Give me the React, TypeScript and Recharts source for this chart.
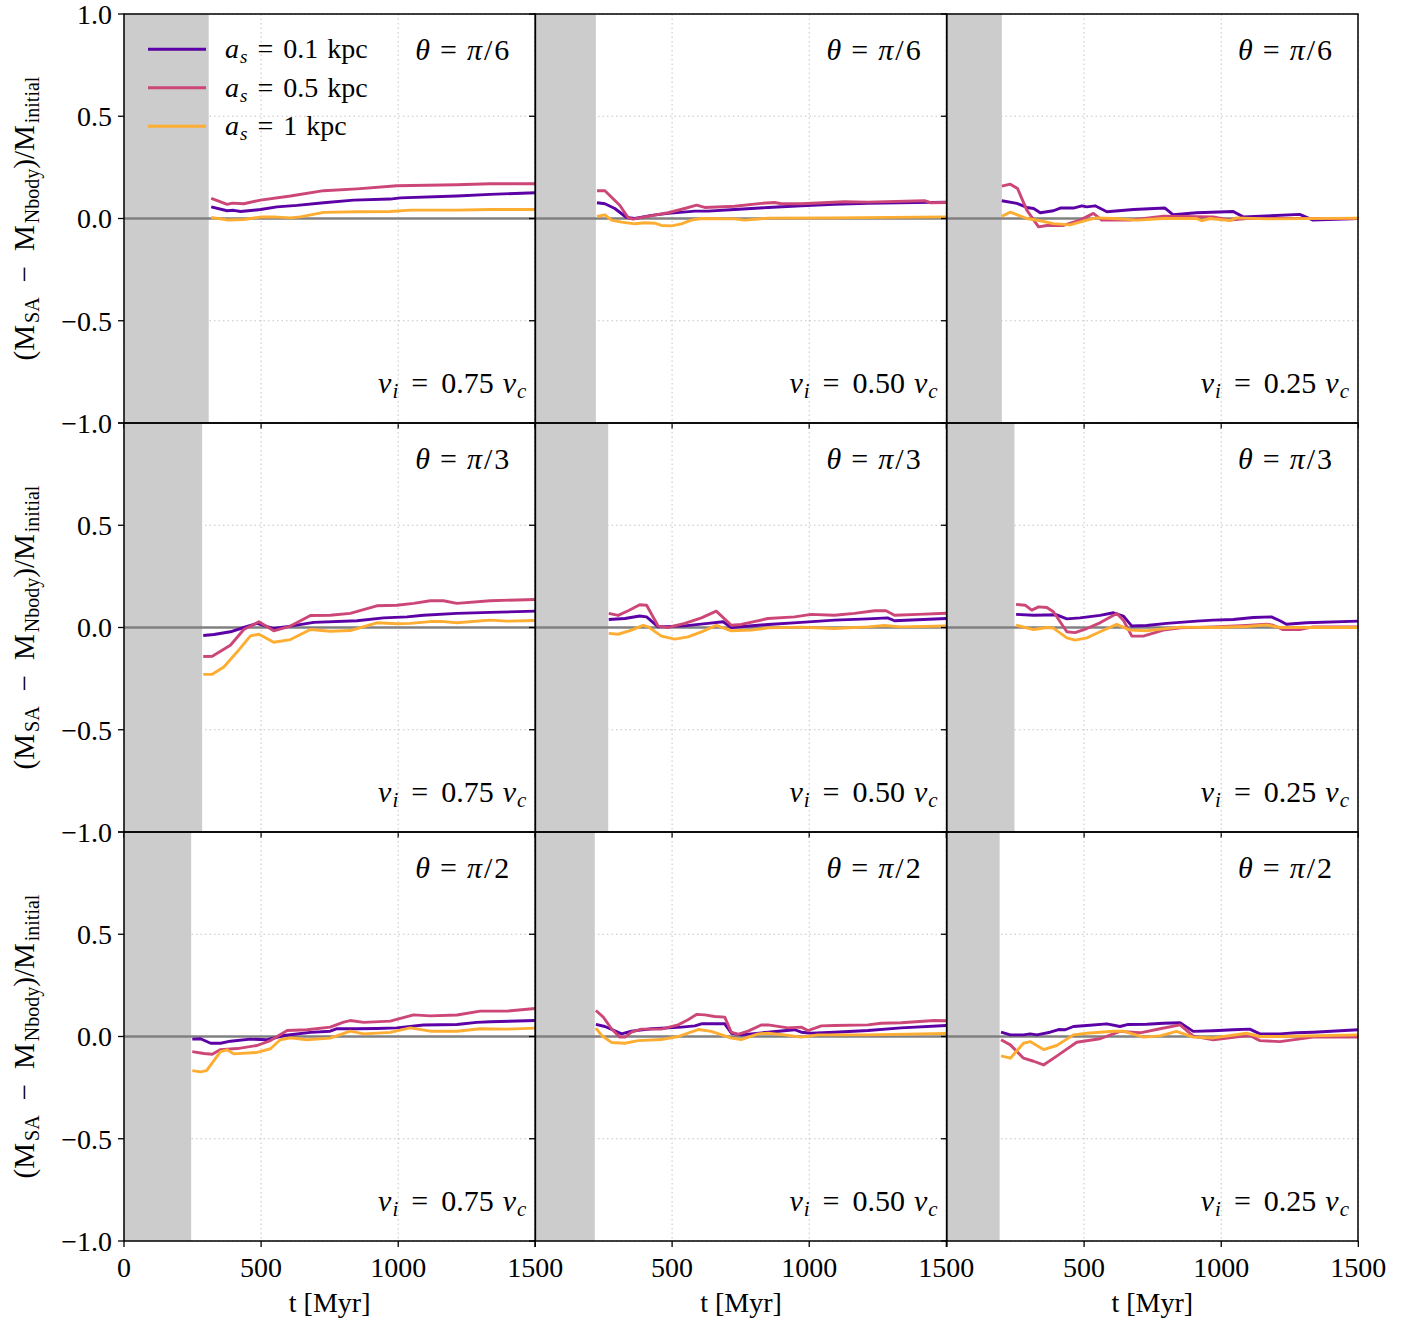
import React from 'react';
import { LineChart, Line, XAxis, YAxis, CartesianGrid, ReferenceArea, ReferenceLine, Legend } from 'recharts';

type Pt = [number, number];

const thetaLabels = ['π/6', 'π/3', 'π/2'];
const velocityLabels = ['0.75', '0.50', '0.25'];
const seriesNames = ['0.1', '0.5', '1'];
const seriesColors = ['#5c01a6', '#cc4778', '#fdae32'];
const xTicks = [0, 500, 1000, 1500];
const yTicks = [-1, -0.5, 0, 0.5, 1];
const bandEnds = [
  [309, 222, 200],
  [285, 267, 246],
  [245, 218, 192],
];

// Row 1 (theta = pi/6)
const r1c1_a01: Pt[] = [[318,0.057],[376,0.038],[400,0.04],[425,0.034],[498,0.044],[558,0.057],[631,0.064],[728,0.077],[837,0.09],[971,0.095],[1007,0.101],[1214,0.11],[1335,0.118],[1500,0.126]];
const r1c1_a05: Pt[] = [[318,0.098],[345,0.085],[376,0.069],[395,0.075],[437,0.072],[498,0.09],[607,0.11],[728,0.136],[850,0.145],[995,0.16],[1214,0.165],[1335,0.17],[1500,0.17]];
const r1c1_a1: Pt[] = [[318,0.005],[376,-0.007],[437,-0.005],[498,0.007],[546,0.008],[607,0.003],[643,0.008],[728,0.03],[850,0.033],[971,0.034],[1044,0.041],[1214,0.041],[1335,0.044],[1500,0.044]];

const r1c2_a01: Pt[] = [[226,0.077],[255,0.072],[291,0.049],[334,0.005],[364,0],[425,0.015],[485,0.025],[583,0.036],[631,0.036],[728,0.044],[850,0.054],[971,0.062],[1092,0.07],[1214,0.074],[1500,0.08]];
const r1c2_a05: Pt[] = [[226,0.136],[255,0.136],[309,0.065],[340,0.003],[358,-0.003],[400,0.008],[485,0.028],[546,0.049],[589,0.065],[619,0.054],[728,0.06],[825,0.074],[874,0.078],[898,0.072],[971,0.072],[1129,0.082],[1214,0.08],[1420,0.087],[1444,0.077],[1500,0.078]];
const r1c2_a1: Pt[] = [[226,0.01],[255,0.018],[279,-0.008],[316,-0.018],[364,-0.026],[400,-0.021],[437,-0.023],[461,-0.034],[498,-0.036],[534,-0.026],[570,-0.008],[607,0],[728,-0.002],[765,-0.008],[850,0.002],[1092,0.003],[1500,0.008]];

const r1c3_a01: Pt[] = [[200,0.087],[255,0.074],[291,0.054],[316,0.049],[340,0.028],[388,0.038],[413,0.051],[461,0.051],[492,0.062],[510,0.057],[540,0.062],[583,0.033],[680,0.044],[795,0.051],[825,0.018],[910,0.028],[1044,0.034],[1080,0.008],[1165,0.013],[1286,0.02],[1335,-0.008],[1500,0]];
const r1c3_a05: Pt[] = [[200,0.158],[231,0.168],[257,0.147],[291,0.041],[334,-0.041],[364,-0.034],[425,-0.034],[485,-0.008],[534,0.025],[564,-0.008],[667,-0.008],[789,0.011],[971,0.008],[1032,-0.008],[1092,0],[1500,0]];
const r1c3_a1: Pt[] = [[200,0.011],[231,0.031],[291,0],[340,-0.011],[388,-0.025],[449,-0.031],[510,-0.008],[546,0.003],[607,0],[692,-0.008],[789,0],[910,0],[928,-0.011],[959,0],[1032,-0.01],[1056,0.003],[1165,-0.002],[1500,0.002]];

// Row 2 (theta = pi/3)
const r2c1_a01: Pt[] = [[289,-0.039],[328,-0.034],[388,-0.021],[437,0],[485,0.02],[546,-0.005],[607,0.007],[692,0.025],[850,0.033],[947,0.047],[1032,0.052],[1092,0.06],[1214,0.069],[1335,0.074],[1500,0.08]];
const r2c1_a05: Pt[] = [[289,-0.142],[322,-0.141],[388,-0.087],[437,-0.01],[492,0.028],[546,-0.016],[607,0.007],[680,0.059],[752,0.06],[825,0.069],[922,0.106],[995,0.109],[1056,0.118],[1117,0.131],[1165,0.131],[1214,0.118],[1335,0.131],[1500,0.137]];
const r2c1_a1: Pt[] = [[289,-0.229],[322,-0.229],[364,-0.193],[413,-0.119],[461,-0.041],[492,-0.033],[546,-0.072],[607,-0.059],[680,-0.01],[752,-0.018],[825,-0.015],[922,0.023],[995,0.018],[1044,0.02],[1117,0.029],[1165,0.029],[1214,0.023],[1335,0.036],[1396,0.031],[1500,0.034]];

const r2c2_a01: Pt[] = [[269,0.039],[328,0.044],[382,0.056],[407,0.052],[449,0.003],[546,0.008],[631,0.02],[686,0.028],[716,0],[850,0.015],[971,0.025],[1092,0.036],[1214,0.042],[1286,0.047],[1311,0.033],[1500,0.044]];
const r2c2_a05: Pt[] = [[269,0.069],[303,0.059],[340,0.082],[382,0.111],[407,0.109],[449,0.007],[485,0],[546,0.02],[607,0.047],[661,0.08],[716,0.011],[752,0.015],[850,0.044],[947,0.052],[1007,0.064],[1092,0.06],[1165,0.069],[1238,0.082],[1280,0.082],[1311,0.06],[1396,0.064],[1500,0.07]];
const r2c2_a1: Pt[] = [[269,-0.029],[303,-0.033],[352,-0.013],[394,0.01],[413,0.003],[461,-0.042],[510,-0.057],[558,-0.046],[607,-0.021],[661,0.01],[716,-0.016],[789,-0.013],[850,-0.002],[971,0.002],[1092,-0.005],[1214,0.003],[1274,0.01],[1335,0.003],[1500,0.007]];

const r2c3_a01: Pt[] = [[252,0.064],[316,0.06],[400,0.062],[437,0.042],[485,0.047],[558,0.059],[607,0.072],[643,0.056],[674,0.007],[728,0.01],[801,0.02],[910,0.031],[971,0.036],[1044,0.039],[1117,0.049],[1183,0.052],[1214,0.033],[1238,0.016],[1311,0.023],[1500,0.031]];
const r2c3_a05: Pt[] = [[252,0.113],[285,0.109],[309,0.085],[334,0.101],[364,0.098],[388,0.077],[437,-0.021],[467,-0.025],[510,-0.005],[558,0.023],[619,0.069],[643,0.036],[674,-0.042],[716,-0.042],[789,-0.013],[850,-0.002],[971,0.003],[1092,0.01],[1165,0.016],[1189,0.011],[1226,-0.01],[1286,-0.01],[1335,0.003],[1500,0.003]];
const r2c3_a1: Pt[] = [[252,0.011],[316,-0.01],[364,0],[388,-0.003],[437,-0.051],[467,-0.062],[510,-0.051],[558,-0.021],[619,0.015],[667,-0.013],[728,-0.016],[789,-0.007],[850,0.002],[971,0],[1092,0.005],[1165,0.013],[1214,0],[1500,0]];

// Row 3 (theta = pi/2)
const r3c1_a01: Pt[] = [[249,-0.013],[279,-0.011],[316,-0.033],[352,-0.033],[388,-0.023],[461,-0.013],[522,-0.016],[583,0.005],[680,0.02],[752,0.026],[777,0.038],[850,0.038],[922,0.039],[995,0.042],[1092,0.056],[1214,0.059],[1286,0.069],[1335,0.072],[1500,0.078]];
const r3c1_a05: Pt[] = [[249,-0.074],[291,-0.083],[322,-0.087],[352,-0.064],[413,-0.059],[485,-0.044],[534,-0.02],[595,0.029],[667,0.033],[752,0.046],[801,0.07],[825,0.078],[874,0.069],[971,0.075],[1056,0.106],[1117,0.101],[1214,0.105],[1299,0.124],[1396,0.124],[1500,0.137]];
const r3c1_a1: Pt[] = [[249,-0.167],[279,-0.173],[301,-0.167],[352,-0.074],[376,-0.065],[400,-0.085],[485,-0.078],[534,-0.06],[570,-0.016],[607,-0.007],[667,-0.016],[752,-0.008],[825,0.026],[874,0.013],[971,0.02],[1044,0.042],[1117,0.026],[1214,0.026],[1299,0.038],[1396,0.036],[1500,0.041]];

const r3c2_a01: Pt[] = [[222,0.059],[255,0.049],[316,0.013],[352,0.026],[425,0.038],[534,0.046],[583,0.052],[607,0.062],[692,0.062],[716,0.016],[752,0.008],[850,0.021],[947,0.033],[971,0.021],[1007,0.016],[1092,0.021],[1214,0.029],[1335,0.042],[1500,0.054]];
const r3c2_a05: Pt[] = [[222,0.127],[249,0.095],[279,0.038],[309,-0.003],[328,-0.003],[352,0.021],[388,0.036],[461,0.036],[522,0.057],[558,0.082],[589,0.108],[619,0.106],[655,0.098],[692,0.095],[716,0.021],[740,0.01],[777,0.026],[825,0.056],[850,0.057],[922,0.042],[971,0.046],[995,0.029],[1044,0.052],[1092,0.054],[1214,0.057],[1262,0.065],[1335,0.067],[1456,0.078],[1500,0.077]];
const r3c2_a1: Pt[] = [[222,0.041],[243,0.005],[279,-0.029],[328,-0.033],[376,-0.02],[461,-0.015],[522,0],[595,0.034],[643,0.025],[716,-0.008],[752,-0.015],[813,0.013],[850,0.016],[910,0.008],[971,-0.003],[1032,0.008],[1214,0.008],[1500,0.015]];

const r3c3_a01: Pt[] = [[197,0.021],[231,0.008],[279,0.008],[303,0.013],[328,0.008],[376,0.021],[407,0.034],[431,0.033],[461,0.049],[510,0.054],[583,0.062],[631,0.049],[661,0.059],[728,0.06],[789,0.065],[850,0.067],[898,0.025],[971,0.028],[1044,0.033],[1104,0.036],[1141,0.013],[1214,0.013],[1274,0.018],[1335,0.021],[1500,0.033]];
const r3c3_a05: Pt[] = [[197,-0.016],[231,-0.041],[279,-0.106],[316,-0.121],[352,-0.139],[400,-0.096],[473,-0.028],[558,-0.011],[631,0.025],[704,0.018],[777,0.038],[850,0.057],[898,0.002],[971,-0.016],[1068,0],[1104,0.005],[1141,-0.02],[1214,-0.025],[1335,-0.003],[1500,-0.003]];
const r3c3_a1: Pt[] = [[197,-0.095],[231,-0.106],[279,-0.033],[303,-0.025],[352,-0.064],[400,-0.044],[461,0.008],[510,0.016],[607,0.026],[643,0.026],[716,-0.003],[777,0.003],[837,0.025],[898,-0.003],[971,-0.007],[1092,0.016],[1141,0],[1214,0],[1500,0.008]];

const panelSeries: Pt[][][][] = [
  [[r1c1_a01, r1c1_a05, r1c1_a1], [r1c2_a01, r1c2_a05, r1c2_a1], [r1c3_a01, r1c3_a05, r1c3_a1]],
  [[r2c1_a01, r2c1_a05, r2c1_a1], [r2c2_a01, r2c2_a05, r2c2_a1], [r2c3_a01, r2c3_a05, r2c3_a1]],
  [[r3c1_a01, r3c1_a05, r3c1_a1], [r3c2_a01, r3c2_a05, r3c2_a1], [r3c3_a01, r3c3_a05, r3c3_a1]],
];

// Layout
const FONT = '"Liberation Serif", "DejaVu Serif", serif';
const FS = 28;
const FS_ANN = 30;
const FS_YLAB = 29;
const SUB = 19;
const SUB_ANN = 21;
const PLOT_LEFT = 124;
const PLOT_TOP = 14;
const PLOT_W = (1358 - 124) / 3;
const PLOT_H = (1241 - 14) / 3;
const YAX_W = 110;
const XAX_H = 60;
const M_TOP = 14;
const M_RIGHT = 48;
const LINE_W = 2.9;

const fmtY = (v: number) => (v < 0 ? '−' : '') + Math.abs(v).toFixed(1);

const LegendBox = (props: any) => {
  const payload = (props && props.payload) || [];
  const rowH = 38.5;
  return (
    <svg width={250} height={rowH * payload.length} style={{ display: 'block', overflow: 'visible' }} fontFamily={FONT}>
      {payload.map((p: any, i: number) => {
        const cy = rowH / 2 + i * rowH;
        return (
          <g key={i}>
            <line x1={0} y1={cy} x2={58} y2={cy} stroke={p.color} strokeWidth={LINE_W} />
            <text x={77} y={cy + 9} fontSize={FS} fill="#000">
              <tspan fontStyle="italic">a</tspan>
              <tspan fontStyle="italic" fontSize={SUB} dx={1} dy={5}>s</tspan>
              <tspan dx={10} dy={-5}>=</tspan>
              <tspan dx={10}>{p.value}</tspan>
              <tspan dx={9}>kpc</tspan>
            </text>
          </g>
        );
      })}
    </svg>
  );
};

const Panel = ({ row, col }: { row: number; col: number }) => {
  const left = PLOT_LEFT + col * PLOT_W - YAX_W;
  const top = PLOT_TOP + row * PLOT_H - M_TOP;
  const width = PLOT_W + YAX_W + M_RIGHT;
  const height = PLOT_H + M_TOP + XAX_H;
  const series = panelSeries[row][col];
  return (
    <div style={{ position: 'absolute', left, top, width, height }}>
      <LineChart width={width} height={height} margin={{ top: M_TOP, right: M_RIGHT, left: 0, bottom: 0 }}>
        <CartesianGrid stroke="#bdbdbd" strokeWidth={0.9} strokeDasharray="1.5 3" />
        <XAxis
          dataKey="t"
          type="number"
          domain={[0, 1500]}
          ticks={xTicks}
          allowDataOverflow
          height={XAX_H}
          axisLine={false}
          tickSize={6}
          tickMargin={10}
          tickLine={{ stroke: '#000', strokeWidth: 1.3 }}
          tick={{ fontSize: FS, fill: '#000', fontFamily: FONT }}
          tickFormatter={(v: number) => (row < 2 ? '' : col > 0 && v === 0 ? '' : String(v))}
          interval={0}
        />
        <YAxis
          type="number"
          domain={[-1, 1]}
          ticks={yTicks}
          allowDataOverflow
          width={YAX_W}
          axisLine={false}
          tickSize={6}
          tickMargin={6}
          tickLine={{ stroke: '#000', strokeWidth: 1.3 }}
          tick={{ fontSize: FS, fill: '#000', fontFamily: FONT }}
          tickFormatter={(v: number) => (col > 0 ? '' : row > 0 && v === 1 ? '' : fmtY(v))}
          interval={0}
        />
        <ReferenceArea x1={0} x2={bandEnds[row][col]} y1={-1} y2={1} fill="#cccccc" fillOpacity={1} stroke="none" />
        <ReferenceLine y={0} stroke="#808080" strokeWidth={2.6} />
        {series.map((pts, i) => (
          <Line
            key={i}
            data={pts.map(([t, v]) => ({ t, v }))}
            dataKey="v"
            name={seriesNames[i]}
            stroke={seriesColors[i]}
            strokeWidth={LINE_W}
            strokeLinejoin="round"
            dot={false}
            activeDot={false}
            isAnimationActive={false}
            type="linear"
          />
        ))}
        {row === 0 && col === 0 && (
          <Legend
            layout="vertical"
            align="center"
            verticalAlign="middle"
            content={<LegendBox />}
            wrapperStyle={{ left: YAX_W + 24, top: M_TOP + 35 - 19.25, width: 250 }}
          />
        )}
      </LineChart>
    </div>
  );
};

const Overlay = () => {
  const frames = [];
  const texts = [];
  for (let r = 0; r < 3; r++) {
    for (let c = 0; c < 3; c++) {
      const x0 = PLOT_LEFT + c * PLOT_W;
      const y0 = PLOT_TOP + r * PLOT_H;
      frames.push(<rect key={`f${r}${c}`} x={x0} y={y0} width={PLOT_W} height={PLOT_H} fill="none" stroke="#000" strokeWidth={1.5} />);
      texts.push(
        <text key={`th${r}${c}`} x={x0 + PLOT_W - 26} y={y0 + 46} textAnchor="end" fontSize={FS_ANN}>
          <tspan fontStyle="italic">θ</tspan>
          <tspan dx={10}>=</tspan>
          <tspan dx={10} fontStyle="italic">{thetaLabels[r][0]}</tspan>
          <tspan dx={2}>/</tspan>
          <tspan dx={2}>{thetaLabels[r].slice(2)}</tspan>
        </text>
      );
      texts.push(
        <text key={`v${r}${c}`} x={x0 + PLOT_W - 9} y={y0 + 379} textAnchor="end" fontSize={FS_ANN}>
          <tspan fontStyle="italic">v</tspan>
          <tspan fontStyle="italic" fontSize={SUB_ANN} dx={1} dy={5}>i</tspan>
          <tspan dx={13} dy={-5}>=</tspan>
          <tspan dx={13}>{velocityLabels[c]}</tspan>
          <tspan dx={9} fontStyle="italic">v</tspan>
          <tspan fontStyle="italic" fontSize={SUB_ANN} dx={1} dy={5}>c</tspan>
        </text>
      );
    }
  }
  const ylabels = [0, 1, 2].map((r) => {
    const cy = PLOT_TOP + r * PLOT_H + PLOT_H / 2;
    return (
      <text key={`yl${r}`} transform={`translate(34, ${cy}) rotate(-90)`} textAnchor="middle" fontSize={FS_YLAB}>
        <tspan>(M</tspan>
        <tspan fontSize={SUB + 1} dx={2} dy={5}>SA</tspan>
        <tspan dx={15} dy={-5}>−</tspan>
        <tspan dx={15}>M</tspan>
        <tspan fontSize={SUB + 1} dx={2} dy={5}>Nbody</tspan>
        <tspan dy={-5}>)/M</tspan>
        <tspan fontSize={SUB + 1} dx={2} dy={5}>initial</tspan>
      </text>
    );
  });
  const xlabels = [0, 1, 2].map((c) => (
    <text key={`xl${c}`} x={PLOT_LEFT + c * PLOT_W + PLOT_W / 2} y={1312} textAnchor="middle" fontSize={FS}>
      t [Myr]
    </text>
  ));
  return (
    <svg width={1419} height={1325} style={{ position: 'absolute', left: 0, top: 0, pointerEvents: 'none' }} fontFamily={FONT} fill="#000">
      {frames}
      {texts}
      {ylabels}
      {xlabels}
    </svg>
  );
};

export default function App() {
  const cells = [];
  for (let r = 0; r < 3; r++) for (let c = 0; c < 3; c++) cells.push(<Panel key={`${r}-${c}`} row={r} col={c} />);
  return (
    <div style={{ position: 'absolute', left: 0, top: 0, width: 1419, height: 1325, background: '#fff', fontFamily: FONT }}>
      {cells}
      <Overlay />
    </div>
  );
}
